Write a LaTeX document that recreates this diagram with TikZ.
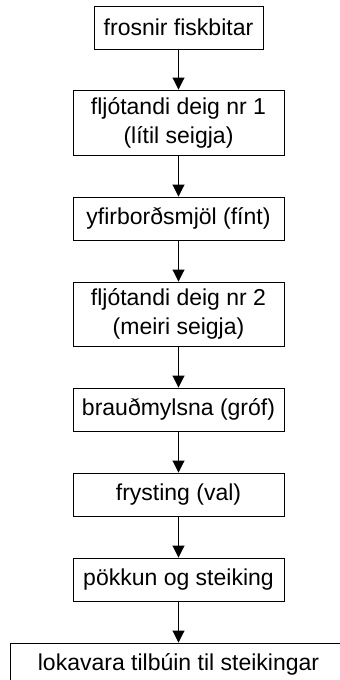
\documentclass[tikz,border=0pt]{standalone}
\usepackage{fontspec}
\setmainfont{Liberation Sans}
\usetikzlibrary{arrows.meta}
\begin{document}
\begin{tikzpicture}[x=1pt,y=-1pt,
  stepbox/.style={draw=black,line width=0.9pt,fill=white,inner sep=0pt,
    align=center,font=\fontsize{23}{29}\selectfont,text=black},
  arr/.style={draw=black,line width=0.9pt,-{Triangle[width=12pt,length=12pt]}}]
\useasboundingbox (0,0) rectangle (340,680);
\clip (0,0) rectangle (340,680);
\node[stepbox,minimum width=169pt,minimum height=43pt] (b1) at (178.5,27.5) {frosnir fiskbitar};
\node[stepbox,minimum width=211pt,minimum height=65pt] (b2) at (178.5,122.5) {fljótandi deig nr 1\\(lítil seigja)};
\node[stepbox,minimum width=211pt,minimum height=43pt] (b3) at (178.5,218.5) {yfirborðsmjöl (fínt)};
\node[stepbox,minimum width=211pt,minimum height=64pt] (b4) at (178.5,314) {fljótandi deig nr 2\\(meiri seigja)};
\node[stepbox,minimum width=211pt,minimum height=43pt] (b5) at (178.5,409.5) {brauðmylsna (gróf)};
\node[stepbox,minimum width=211pt,minimum height=43pt] (b6) at (178.5,494.5) {frysting (val)};
\node[stepbox,minimum width=211pt,minimum height=43pt] (b7) at (178.5,579.5) {pökkun og steiking};
\node[stepbox,minimum width=337pt,minimum height=43pt] (b8) at (178.5,664.5) {lokavara tilbúin til steikingar};
\draw[arr] (b1.south) -- (b2.north);
\draw[arr] (b2.south) -- (b3.north);
\draw[arr] (b3.south) -- (b4.north);
\draw[arr] (b4.south) -- (b5.north);
\draw[arr] (b5.south) -- (b6.north);
\draw[arr] (b6.south) -- (b7.north);
\draw[arr] (b7.south) -- (b8.north);
\end{tikzpicture}
\end{document}
